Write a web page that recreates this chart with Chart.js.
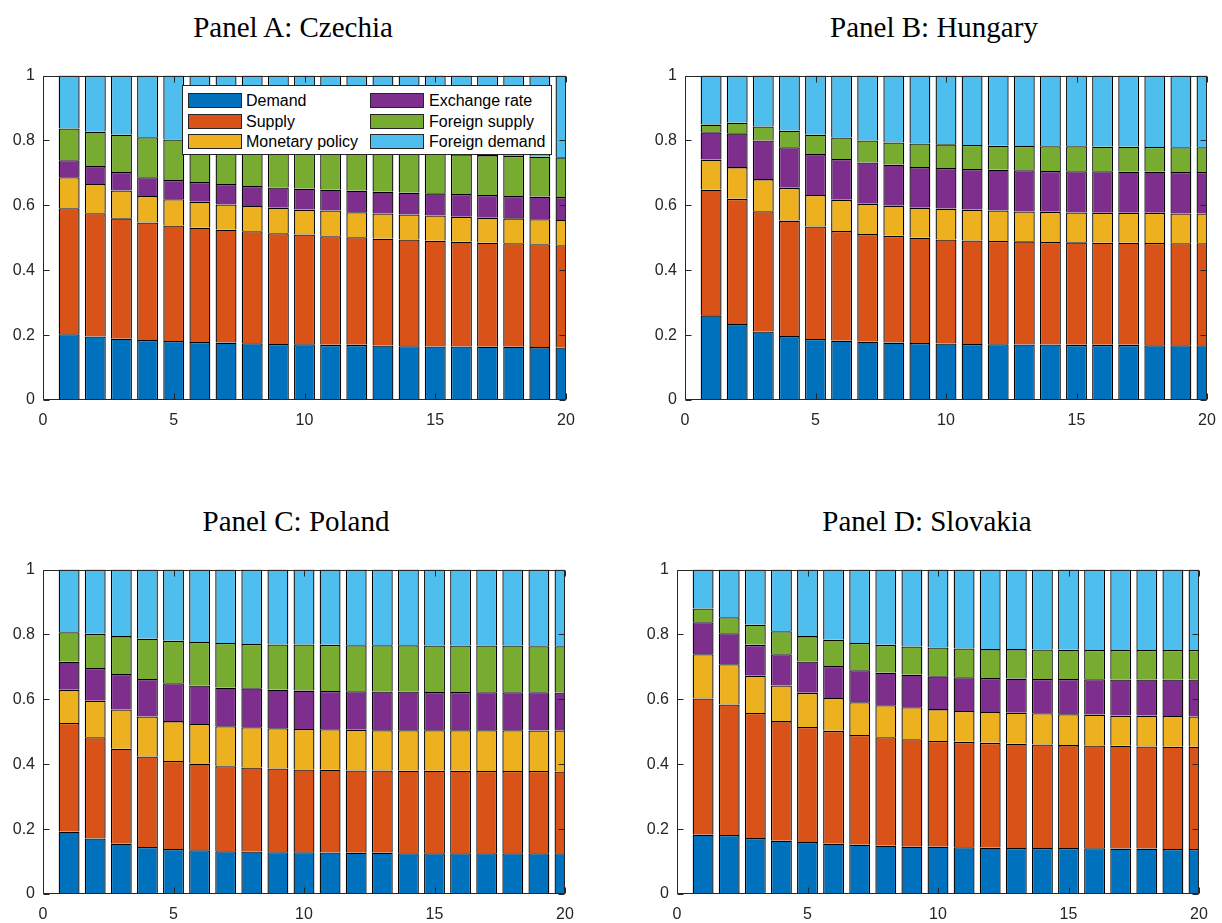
<!DOCTYPE html>
<html>
<head>
<meta charset="utf-8">
<title>Forecast error variance decomposition</title>
<script src="https://cdn.jsdelivr.net/npm/chart.js@4.4.1/dist/chart.umd.min.js"></script>
<style>
  html, body { margin: 0; padding: 0; background: #fff; }
  #page { position: relative; width: 1222px; height: 923px; overflow: hidden; background: #fff; }
  #page canvas { position: absolute; }
  .panel-title {
    position: absolute; width: 400px; text-align: center; white-space: nowrap;
    font-family: "Liberation Serif", "Times New Roman", serif; font-size: 29px; line-height: 29px; color: #000;
  }
  .legend {
    position: absolute; left: 182px; top: 85px; width: 368px; height: 68px;
    background: #fff; border: 1px solid #262626; z-index: 5;
    font-family: "Liberation Sans", Arial, Helvetica, sans-serif; font-size: 16px; color: #000;
  }
  .legend .sw { position: absolute; width: 52px; height: 13px; border: 1px solid #262626; }
  .legend .lb { position: absolute; line-height: 16px; white-space: nowrap; }
</style>
</head>
<body>
<div id="page"></div>
<script>
const horizons = [1, 2, 3, 4, 5, 6, 7, 8, 9, 10, 11, 12, 13, 14, 15, 16, 17, 18, 19, 20];
const xTicks = [0, 5, 10, 15, 20];
const yTicks = [0, 0.2, 0.4, 0.6, 0.8, 1];

const shockNames = ["Demand", "Supply", "Monetary policy", "Exchange rate", "Foreign supply", "Foreign demand"];
const shockColors = ["#0072BD", "#D95319", "#EDB120", "#7E2F8E", "#77AC30", "#4DBEEE"];

// Panel A: Czechia
const czDemand = [0.203, 0.196, 0.189, 0.185, 0.182, 0.179, 0.177, 0.175, 0.173, 0.172, 0.170, 0.170, 0.168, 0.166, 0.165, 0.165, 0.164, 0.164, 0.163, 0.162];
const czSupply = [0.388, 0.380, 0.371, 0.362, 0.356, 0.352, 0.348, 0.345, 0.341, 0.338, 0.335, 0.332, 0.329, 0.329, 0.326, 0.323, 0.321, 0.319, 0.317, 0.315];
const czMonetary = [0.096, 0.090, 0.086, 0.082, 0.081, 0.080, 0.078, 0.078, 0.079, 0.077, 0.079, 0.077, 0.078, 0.077, 0.078, 0.077, 0.077, 0.077, 0.077, 0.078];
const czExchange = [0.052, 0.055, 0.057, 0.058, 0.059, 0.061, 0.063, 0.062, 0.062, 0.064, 0.064, 0.066, 0.067, 0.067, 0.068, 0.070, 0.070, 0.069, 0.070, 0.071];
const czForeignSupply = [0.098, 0.106, 0.115, 0.123, 0.125, 0.123, 0.123, 0.124, 0.124, 0.124, 0.123, 0.123, 0.123, 0.123, 0.122, 0.122, 0.123, 0.123, 0.123, 0.122];
const czForeignDemand = [0.163, 0.173, 0.182, 0.190, 0.197, 0.205, 0.211, 0.216, 0.221, 0.225, 0.229, 0.232, 0.235, 0.238, 0.241, 0.243, 0.245, 0.248, 0.250, 0.252];

// Panel B: Hungary
const huDemand = [0.261, 0.234, 0.211, 0.197, 0.188, 0.183, 0.180, 0.177, 0.176, 0.174, 0.173, 0.172, 0.171, 0.171, 0.170, 0.170, 0.170, 0.169, 0.169, 0.169];
const huSupply = [0.387, 0.386, 0.371, 0.356, 0.347, 0.338, 0.332, 0.329, 0.324, 0.321, 0.319, 0.318, 0.318, 0.316, 0.316, 0.315, 0.315, 0.315, 0.314, 0.314];
const huMonetary = [0.093, 0.098, 0.099, 0.101, 0.097, 0.096, 0.093, 0.093, 0.093, 0.095, 0.095, 0.094, 0.092, 0.093, 0.092, 0.092, 0.092, 0.093, 0.092, 0.092];
const huExchange = [0.084, 0.104, 0.119, 0.125, 0.126, 0.126, 0.127, 0.126, 0.125, 0.125, 0.125, 0.126, 0.127, 0.126, 0.127, 0.128, 0.127, 0.127, 0.128, 0.128];
const huForeignSupply = [0.024, 0.033, 0.043, 0.051, 0.060, 0.066, 0.068, 0.069, 0.073, 0.073, 0.074, 0.074, 0.075, 0.076, 0.077, 0.076, 0.077, 0.076, 0.076, 0.076];
const huForeignDemand = [0.151, 0.145, 0.157, 0.170, 0.182, 0.191, 0.200, 0.206, 0.209, 0.212, 0.214, 0.216, 0.217, 0.218, 0.218, 0.219, 0.219, 0.220, 0.221, 0.221];

// Panel C: Poland
const plDemand = [0.192, 0.171, 0.155, 0.145, 0.139, 0.135, 0.132, 0.131, 0.129, 0.129, 0.128, 0.127, 0.127, 0.126, 0.126, 0.126, 0.126, 0.126, 0.126, 0.126];
const plSupply = [0.335, 0.312, 0.293, 0.279, 0.271, 0.267, 0.262, 0.259, 0.258, 0.255, 0.255, 0.254, 0.254, 0.254, 0.254, 0.254, 0.253, 0.253, 0.253, 0.252];
const plMonetary = [0.103, 0.113, 0.121, 0.123, 0.123, 0.122, 0.123, 0.124, 0.124, 0.125, 0.125, 0.125, 0.124, 0.125, 0.125, 0.125, 0.126, 0.126, 0.125, 0.126];
const plExchange = [0.086, 0.101, 0.109, 0.116, 0.117, 0.119, 0.119, 0.120, 0.119, 0.118, 0.118, 0.119, 0.119, 0.119, 0.118, 0.118, 0.117, 0.117, 0.118, 0.117];
const plForeignSupply = [0.091, 0.105, 0.117, 0.124, 0.131, 0.134, 0.138, 0.137, 0.139, 0.142, 0.142, 0.142, 0.143, 0.143, 0.143, 0.143, 0.144, 0.144, 0.142, 0.143];
const plForeignDemand = [0.193, 0.198, 0.205, 0.213, 0.219, 0.223, 0.226, 0.229, 0.231, 0.231, 0.232, 0.233, 0.233, 0.233, 0.234, 0.234, 0.234, 0.234, 0.236, 0.236];

// Panel D: Slovakia
const skDemand = [0.183, 0.182, 0.173, 0.164, 0.160, 0.155, 0.152, 0.149, 0.146, 0.146, 0.144, 0.143, 0.142, 0.142, 0.142, 0.141, 0.140, 0.140, 0.139, 0.139];
const skSupply = [0.420, 0.402, 0.385, 0.369, 0.355, 0.348, 0.338, 0.334, 0.331, 0.326, 0.325, 0.323, 0.321, 0.319, 0.317, 0.317, 0.317, 0.315, 0.315, 0.315];
const skMonetary = [0.136, 0.124, 0.115, 0.110, 0.105, 0.101, 0.101, 0.099, 0.099, 0.098, 0.095, 0.095, 0.096, 0.096, 0.095, 0.095, 0.093, 0.095, 0.095, 0.093];
const skExchange = [0.099, 0.096, 0.095, 0.096, 0.097, 0.099, 0.099, 0.100, 0.100, 0.101, 0.104, 0.105, 0.105, 0.106, 0.109, 0.109, 0.111, 0.111, 0.112, 0.114];
const skForeignSupply = [0.042, 0.049, 0.062, 0.071, 0.078, 0.081, 0.084, 0.086, 0.087, 0.089, 0.089, 0.089, 0.091, 0.091, 0.090, 0.090, 0.091, 0.091, 0.091, 0.091];
const skForeignDemand = [0.120, 0.147, 0.170, 0.190, 0.205, 0.216, 0.226, 0.232, 0.237, 0.240, 0.243, 0.245, 0.245, 0.246, 0.247, 0.248, 0.248, 0.248, 0.248, 0.248];

const panels = [
  { title: "Panel A: Czechia", series: [czDemand, czSupply, czMonetary, czExchange, czForeignSupply, czForeignDemand],
    box: { left: 43, top: 72, right: 566, bottom: 400 }, titleX: 293, titleTop: 13, legend: true },
  { title: "Panel B: Hungary", series: [huDemand, huSupply, huMonetary, huExchange, huForeignSupply, huForeignDemand],
    box: { left: 685, top: 72, right: 1207, bottom: 400 }, titleX: 934, titleTop: 13 },
  { title: "Panel C: Poland", series: [plDemand, plSupply, plMonetary, plExchange, plForeignSupply, plForeignDemand],
    box: { left: 43, top: 566, right: 565, bottom: 894 }, titleX: 296, titleTop: 507 },
  { title: "Panel D: Slovakia", series: [skDemand, skSupply, skMonetary, skExchange, skForeignSupply, skForeignDemand],
    box: { left: 677, top: 566, right: 1199, bottom: 894 }, titleX: 927, titleTop: 507 },
];

const AXIS_COLOR = "#262626";
const TICK_LEN = 6;
const PAD_LEFT = 50, PAD_TOP = 14, PAD_RIGHT = 30, PAD_BOTTOM = 37;

// MATLAB-style box with inward ticks on all four sides
const axesBoxPlugin = {
  id: "axesBox",
  afterDatasetsDraw(chart) {
    const { ctx, chartArea: a, scales } = chart;
    const l = Math.round(a.left) + 0.5, r = Math.round(a.right) - 0.5;
    const t = Math.round(a.top) + 0.5, b = Math.round(a.bottom) - 0.5;
    ctx.save();
    ctx.strokeStyle = AXIS_COLOR;
    ctx.lineWidth = 1;
    ctx.beginPath();
    ctx.rect(l, t, r - l, b - t);
    scales.y.ticks.forEach((tk) => {
      const y = Math.round(scales.y.getPixelForValue(tk.value)) + 0.5;
      ctx.moveTo(l, y); ctx.lineTo(l + TICK_LEN, y);
      ctx.moveTo(r, y); ctx.lineTo(r - TICK_LEN, y);
    });
    scales.x.ticks.forEach((tk) => {
      const x = Math.round(scales.x.getPixelForValue(tk.value)) + 0.5;
      ctx.moveTo(x, b); ctx.lineTo(x, b - TICK_LEN);
      ctx.moveTo(x, t); ctx.lineTo(x, t + TICK_LEN);
    });
    ctx.stroke();
    ctx.restore();
  },
};

function tickFont() {
  return { family: '"Liberation Sans", Arial, Helvetica, sans-serif', size: 16 };
}

function buildPanel(page, panel) {
  const g = panel.box;
  const canvas = document.createElement("canvas");
  const w = g.right - g.left + PAD_LEFT + PAD_RIGHT;
  const h = g.bottom - g.top + PAD_TOP + PAD_BOTTOM;
  canvas.width = w;
  canvas.height = h;
  canvas.style.left = (g.left - PAD_LEFT) + "px";
  canvas.style.top = (g.top - PAD_TOP) + "px";
  canvas.style.width = w + "px";
  canvas.style.height = h + "px";
  page.appendChild(canvas);

  const datasets = panel.series.map((values, i) => ({
    label: shockNames[i],
    data: horizons.map((hz, j) => ({ x: hz, y: values[j] })),
    backgroundColor: shockColors[i],
    borderColor: "#000",
    borderWidth: 1.3,
    inflateAmount: 0,
    barPercentage: 0.8,
    categoryPercentage: 1,
    clip: 0,
  }));

  new Chart(canvas, {
    type: "bar",
    data: { datasets },
    options: {
      responsive: false,
      animation: false,
      devicePixelRatio: 1,
      events: [],
      layout: { padding: { left: 0, top: PAD_TOP, right: PAD_RIGHT, bottom: 0 } },
      plugins: { legend: { display: false }, tooltip: { enabled: false } },
      scales: {
        x: {
          type: "linear",
          stacked: true,
          offset: false,
          min: 0,
          max: 20,
          grid: { display: false, drawTicks: false },
          border: { display: false },
          afterBuildTicks: (s) => { s.ticks = xTicks.map((v) => ({ value: v })); },
          afterFit: (s) => { s.height = PAD_BOTTOM; },
          ticks: { font: tickFont(), color: AXIS_COLOR, padding: 11, maxRotation: 0, callback: (v) => String(v) },
        },
        y: {
          type: "linear",
          stacked: true,
          min: 0,
          max: 1,
          grid: { display: false, drawTicks: false },
          border: { display: false },
          afterBuildTicks: (s) => { s.ticks = yTicks.map((v) => ({ value: v })); },
          afterFit: (s) => { s.width = PAD_LEFT; },
          ticks: { font: tickFont(), color: AXIS_COLOR, padding: 8, callback: (v) => String(v) },
        },
      },
    },
    plugins: [axesBoxPlugin],
  });

  const title = document.createElement("div");
  title.className = "panel-title";
  title.textContent = panel.title;
  title.style.left = (panel.titleX - 200) + "px";
  title.style.top = panel.titleTop + "px";
  page.appendChild(title);

  if (panel.legend) buildLegend(page);
}

function buildLegend(page) {
  const box = document.createElement("div");
  box.className = "legend";
  const rowCenters = [15, 35.5, 56];
  const colSwatch = [5, 187];
  const colText = [63, 246];
  shockNames.forEach((name, i) => {
    const col = Math.floor(i / 3);
    const row = i % 3;
    const sw = document.createElement("div");
    sw.className = "sw";
    sw.style.background = shockColors[i];
    sw.style.left = colSwatch[col] + "px";
    sw.style.top = (rowCenters[row] - 8) + "px";
    box.appendChild(sw);
    const lb = document.createElement("div");
    lb.className = "lb";
    lb.textContent = name;
    lb.style.left = colText[col] + "px";
    lb.style.top = (rowCenters[row] - 8) + "px";
    box.appendChild(lb);
  });
  page.appendChild(box);
}

window.addEventListener("DOMContentLoaded", () => {
  const page = document.getElementById("page");
  panels.forEach((p) => buildPanel(page, p));
});
</script>
</body>
</html>
